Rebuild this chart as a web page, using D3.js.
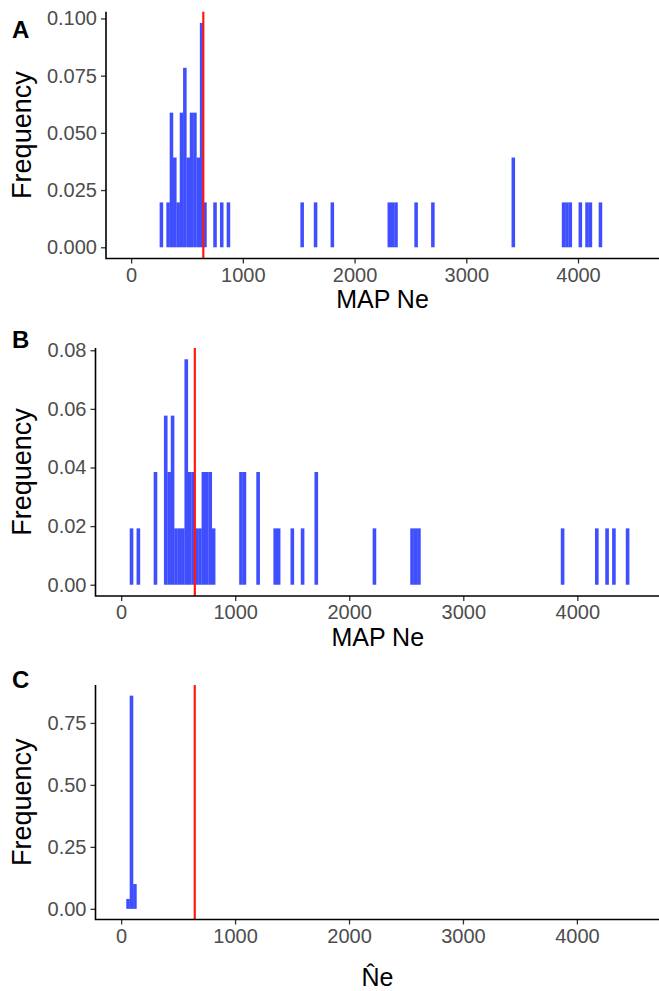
<!DOCTYPE html>
<html>
<head>
<meta charset="utf-8">
<script src="https://cdn.jsdelivr.net/npm/d3@7"></script>
<style>
  body { margin: 0; background: #fff; }
  text { font-family: "Liberation Sans", Arial, sans-serif; }
</style>
</head>
<body>
<script>
// histogram bins are 30 wide, centred on multiples of 30
const binWidth = 30;
const trueNe = 646;

// panel A: MAP Ne
const binsA = [270, 330, 360, 390, 420, 450, 480, 510, 540, 570, 600, 630, 660, 750, 810, 870,
  1530, 1650, 1800, 2310, 2340, 2370, 2550, 2700, 3420, 3870, 3900, 3930, 4020, 4080, 4110, 4200];
const countsA = [1, 1, 3, 2, 1, 3, 4, 2, 3, 3, 2, 5, 1, 1, 1, 1,
  1, 1, 1, 1, 1, 1, 1, 1, 2, 1, 1, 1, 1, 1, 1, 1];
const totalA = 51;

// panel B: MAP Ne
const binsB = [90, 150, 300, 390, 420, 450, 480, 510, 540, 570, 600, 630, 660, 690, 720, 750, 780, 810,
  1050, 1080, 1200, 1350, 1380, 1500, 1590, 1710, 2220, 2550, 2580, 2610, 3870, 4170, 4260, 4320, 4440];
const countsB = [1, 1, 2, 3, 2, 3, 1, 1, 1, 4, 2, 2, 1, 1, 2, 2, 2, 1,
  2, 2, 2, 1, 1, 1, 1, 2, 1, 1, 1, 1, 1, 1, 1, 1, 1];
const totalB = 52;

// panel C: Ne hat
const binsC = [60, 90, 120];
const countsC = [2, 43, 5];
const totalC = 50;

const xTicks = [0, 1000, 2000, 3000, 4000];
const yTicksA = [0, 0.025, 0.05, 0.075, 0.1];
const yTicksB = [0, 0.02, 0.04, 0.06, 0.08];
const yTicksC = [0, 0.25, 0.5, 0.75];

const width = 659, height = 991;
const barColor = "#3f4ffe";
const lineColor = "#ff1a10";

const svg = d3.select("body").append("svg")
  .attr("width", width)
  .attr("height", height);

const panels = [
  { label: "A", bins: binsA, counts: countsA, total: totalA, yTicks: yTicksA, fmt: ".3f",
    left: 106, right: 659, top: 11.7, bottom: 258.5, title: "MAP Ne", titleDy: 49, labelY: 38 },
  { label: "B", bins: binsB, counts: countsB, total: totalB, yTicks: yTicksB, fmt: ".2f",
    left: 95.5, right: 660, top: 348, bottom: 596, title: "MAP Ne", titleDy: 50, labelY: 348 },
  { label: "C", bins: binsC, counts: countsC, total: totalC, yTicks: yTicksC, fmt: ".2f",
    left: 95.5, right: 659.5, top: 685, bottom: 919.5, title: "N\u0302e", titleDy: 66.5, labelY: 688 }
];

panels.forEach(function (p) {
  const freq = p.counts.map((c) => c / p.total);
  const maxF = d3.max(freq);

  // limits 0..4500 with ggplot's 5% expansion
  const x = d3.scaleLinear().domain([-225, 4725]).range([p.left, p.right]);
  const y = d3.scaleLinear().domain([-0.05 * maxF, 1.05 * maxF]).range([p.bottom, p.top]);

  const g = svg.append("g").attr("class", "panel panel-" + p.label);

  g.selectAll("rect.bar")
    .data(p.bins)
    .enter()
    .append("rect")
    .attr("class", "bar")
    .attr("x", (d) => x(d - binWidth / 2))
    .attr("width", (d) => x(d + binWidth / 2) - x(d - binWidth / 2) + 0.2)
    .attr("y", (d, j) => y(freq[j]))
    .attr("height", (d, j) => y(0) - y(freq[j]))
    .attr("fill", barColor);

  g.append("line")
    .attr("class", "truth")
    .attr("x1", x(trueNe))
    .attr("x2", x(trueNe))
    .attr("y1", p.top)
    .attr("y2", p.bottom)
    .attr("stroke", lineColor)
    .attr("stroke-width", 2.2);

  const xAxis = d3.axisBottom(x).tickValues(xTicks).tickSize(5).tickSizeOuter(0).tickPadding(4)
    .tickFormat(d3.format("d"));
  const yAxis = d3.axisLeft(y).tickValues(p.yTicks).tickSize(5).tickSizeOuter(0).tickPadding(4)
    .tickFormat(d3.format(p.fmt));

  const gx = g.append("g").attr("transform", `translate(0,${p.bottom})`).call(xAxis);
  const gy = g.append("g").attr("transform", `translate(${p.left},0)`).call(yAxis);

  [gx, gy].forEach(function (ax) {
    ax.select(".domain").remove();
    ax.selectAll(".tick line").attr("stroke", "#333").attr("stroke-width", 1.3);
    ax.selectAll(".tick text").attr("fill", "#4d4d4d").style("font-size", "20px");
  });

  // axis lines meeting at the corner
  g.append("path")
    .attr("d", `M${p.left},${p.top}V${p.bottom}H${p.right}`)
    .attr("fill", "none")
    .attr("stroke", "#000")
    .attr("stroke-width", 1.6);

  g.append("text")
    .attr("x", (p.left + p.right) / 2)
    .attr("y", p.bottom + p.titleDy)
    .attr("text-anchor", "middle")
    .style("font-size", "25px")
    .text(p.title);

  g.append("text")
    .attr("transform", `translate(31,${(p.top + p.bottom) / 2}) rotate(-90)`)
    .attr("text-anchor", "middle")
    .style("font-size", "27px")
    .text("Frequency");

  g.append("text")
    .attr("x", 12)
    .attr("y", p.labelY)
    .style("font-size", "24px")
    .style("font-weight", "bold")
    .text(p.label);
});
</script>
</body>
</html>
